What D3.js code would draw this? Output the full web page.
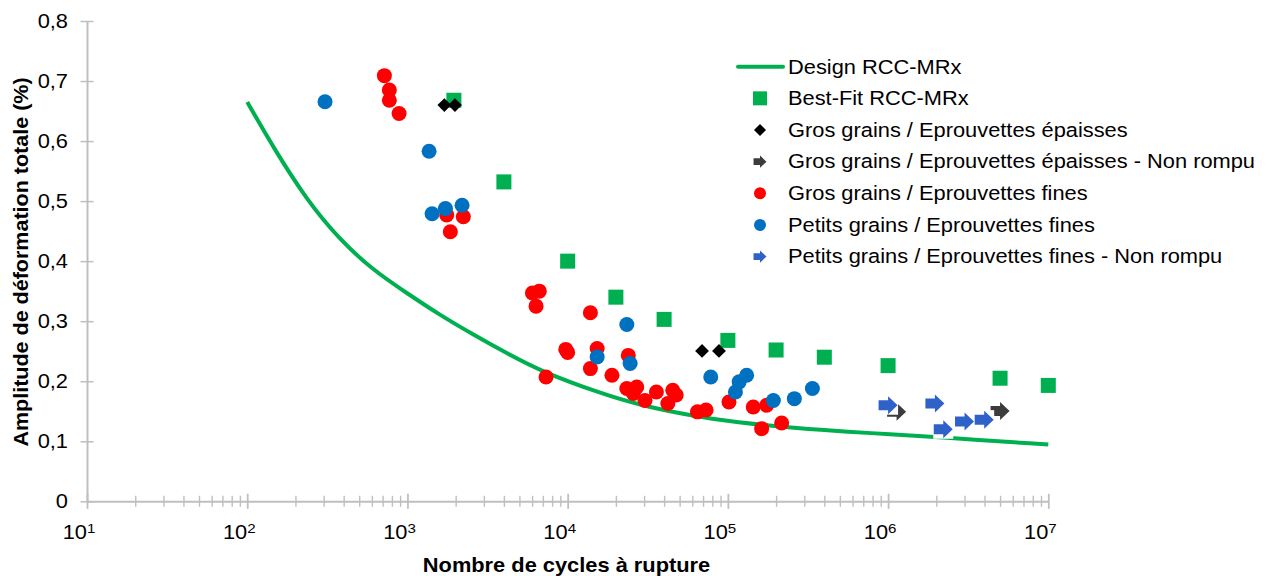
<!DOCTYPE html>
<html><head><meta charset="utf-8">
<script src="https://cdn.jsdelivr.net/npm/d3@7"></script>
<style>
body{margin:0;background:#fff}
svg{display:block;font-family:"Liberation Sans",Arial,sans-serif}
</style>
</head><body>
<svg id="chart" width="1272" height="576"></svg>
<script>
// ---------- data ----------
const xTickExps = [1, 2, 3, 4, 5, 6, 7];
const yTicks = [0, 0.1, 0.2, 0.3, 0.4, 0.5, 0.6, 0.7, 0.8];
const xTitle = "Nombre de cycles à rupture";
const yTitle = "Amplitude de déformation totale (%)";
const seriesNames = [
  "Design RCC-MRx",
  "Best-Fit RCC-MRx",
  "Gros grains / Eprouvettes épaisses",
  "Gros grains / Eprouvettes épaisses - Non rompu",
  "Gros grains / Eprouvettes fines",
  "Petits grains / Eprouvettes fines",
  "Petits grains / Eprouvettes fines - Non rompu"
];
const designN = [100, 145, 235, 380, 610, 1000, 1600, 2600, 4200, 7000, 16000, 28000, 67000, 108000, 280000, 580000, 1000000, 2000000, 10000000];
const designV = [0.665, 0.59, 0.502, 0.435, 0.385, 0.346, 0.31, 0.277, 0.246, 0.215, 0.18, 0.16, 0.14, 0.132, 0.121, 0.1155, 0.112, 0.107, 0.0945];
const bestFitN = [1950, 4000, 10000, 20000, 40000, 100000, 200000, 400000, 1000000, 5000000, 10000000];
const bestFitV = [0.668, 0.532, 0.40, 0.34, 0.303, 0.268, 0.252, 0.24, 0.226, 0.205, 0.193];
const ggEpN = [1700, 1980, 69000, 88000];
const ggEpV = [0.66, 0.66, 0.2505, 0.2505];
const ggEpNrN = [1130000, 5000000];
const ggEpNrV = [0.149, 0.1505];
const ggFinN = [718, 771, 771, 887, 1758, 2233, 1853, 6026, 6650, 6350, 13870, 9730, 10000, 15280, 23900, 7330, 13870, 18900, 23400, 27000, 25700, 30400, 35800, 45300, 47600, 42200, 64600, 73100, 101600, 144000, 174600, 162500, 216600];
const ggFinV = [0.709, 0.685, 0.668, 0.646, 0.477, 0.474, 0.449, 0.347, 0.35, 0.325, 0.314, 0.253, 0.248, 0.2545, 0.243, 0.207, 0.221, 0.21, 0.188, 0.1905, 0.1795, 0.168, 0.182, 0.185, 0.177, 0.163, 0.149, 0.152, 0.1655, 0.157, 0.16, 0.121, 0.1305];
const pgFinN = [306, 1365, 1425, 1726, 2193, 23400, 15280, 24550, 78200, 131000, 117600, 111500, 192300, 260000, 337000];
const pgFinV = [0.6655, 0.583, 0.479, 0.4875, 0.493, 0.2945, 0.2405, 0.2295, 0.207, 0.21, 0.199, 0.182, 0.168, 0.171, 0.188];
const pgNrN = [1000000, 1960000, 2210000, 3000000, 3980000];
const pgNrV = [0.16, 0.163, 0.12, 0.133, 0.136];

// ---------- style ----------
const C = {green:"#00B050", black:"#000000", gray:"#3C3C3C", red:"#FF0000", blue:"#0070C0", arrowBlue:"#2F62C9", axis:"#BFBFBF", text:"#000000"};
const FS = 19.5, SX = 1.12;

const svg = d3.select("#chart");
const x = d3.scaleLog().domain([10, 1e7]).range([87, 1048.3]);
const y = d3.scaleLinear().domain([0, 0.8]).range([501.3, 21]);
const zip = (a, b) => a.map((d, i) => [d, b[i]]);

// ---------- axes ----------
const yAx = svg.append("g").attr("transform", "translate(87,0)")
  .call(d3.axisLeft(y).tickValues(yTicks).tickSize(0).tickSizeOuter(0).tickFormat(""));
yAx.select(".domain").attr("stroke", C.axis).attr("stroke-width", 2);
yAx.selectAll(".tick line").attr("x1", -6.5).attr("x2", 6.5).attr("stroke", C.axis).attr("stroke-width", 1.5);

const xTickVals = [];
xTickExps.forEach(e => {
  if (e < 7) { for (let m = 1; m <= 9; m++) xTickVals.push(m * Math.pow(10, e)); }
  else xTickVals.push(Math.pow(10, e));
});
const isMajor = v => Math.abs(Math.log10(v) - Math.round(Math.log10(v))) < 1e-9;
const xAx = svg.append("g").attr("transform", `translate(0,${y(0)})`)
  .call(d3.axisBottom(x).tickValues(xTickVals).tickSize(0).tickSizeOuter(0).tickFormat(""));
xAx.select(".domain").attr("stroke", C.axis).attr("stroke-width", 2);
xAx.selectAll(".tick line")
  .attr("y1", d => isMajor(d) ? -7.5 : -5.5)
  .attr("y2", d => isMajor(d) ? 7.5 : 5.5)
  .attr("stroke", C.axis).attr("stroke-width", d => isMajor(d) ? 1.8 : 1.4);

// y tick labels
const fmtY = v => v === 0 ? "0" : d3.format(".1f")(v).replace(".", ",");
svg.append("g").selectAll("text").data(yTicks).join("text")
  .attr("transform", d => `translate(68,${y(d) + 7}) scale(${SX},1)`)
  .attr("text-anchor", "end").attr("font-size", FS).attr("fill", C.text)
  .text(fmtY);

// x tick labels 10^e
const xl = svg.append("g");
xTickExps.forEach(e => {
  const px = x(Math.pow(10, e));
  xl.append("text").attr("transform", `translate(${px},539.3) scale(${SX},1)`)
    .attr("text-anchor", "end").attr("font-size", FS).attr("fill", C.text).text("10");
  xl.append("text").attr("transform", `translate(${px},533) scale(${SX},1)`)
    .attr("text-anchor", "start").attr("font-size", 13.5).attr("fill", C.text).text(String(e));
});

// axis titles
svg.append("text").attr("transform", `translate(566.5,571.7) scale(${SX},1)`)
  .attr("text-anchor", "middle").attr("font-size", FS).attr("font-weight", "bold").attr("fill", C.text)
  .text(xTitle);
svg.append("text").attr("transform", `translate(28,262) rotate(-90) scale(1.05,1)`)
  .attr("text-anchor", "middle").attr("font-size", 20.5).attr("font-weight", "bold").attr("fill", C.text)
  .text(yTitle);

// ---------- marks ----------
const arrowPath = "M-9.5,-5 L0,-5 L0,-9 L9.5,0 L0,9 L0,5 L-9.5,5 Z";
const diamond = s => `M0,${-s} L${s},0 L0,${s} L${-s},0 Z`;

// design line
svg.append("path").datum(zip(designN, designV))
  .attr("fill", "none").attr("stroke", C.green).attr("stroke-width", 4)
  .attr("d", d3.line().x(d => x(d[0])).y(d => y(d[1])).curve(d3.curveBasis));

// best fit squares
svg.append("g").selectAll("rect").data(zip(bestFitN, bestFitV)).join("rect")
  .attr("x", d => x(d[0]) - 7.5).attr("y", d => y(d[1]) - 7.5)
  .attr("width", 15).attr("height", 15).attr("fill", C.green);

// gros grains épaisses diamonds
svg.append("g").selectAll("path").data(zip(ggEpN, ggEpV)).join("path")
  .attr("transform", d => `translate(${x(d[0])},${y(d[1])})`)
  .attr("d", diamond(6.9)).attr("fill", C.black);

// arrows helper
function arrows(data, color) {
  const g = svg.append("g").selectAll("g").data(data).join("g")
    .attr("transform", d => `translate(${x(d[0])},${y(d[1])})`);
  g.append("rect").attr("x", -10).attr("y", -9.5).attr("width", 20).attr("height", 19).attr("fill", "#fff");
  g.append("path").attr("d", arrowPath).attr("fill", color);
}
arrows(zip(ggEpNrN, ggEpNrV), C.gray);

// red circles
svg.append("g").selectAll("circle").data(zip(ggFinN, ggFinV)).join("circle")
  .attr("cx", d => x(d[0])).attr("cy", d => y(d[1])).attr("r", 7.5).attr("fill", C.red);
// blue circles
svg.append("g").selectAll("circle").data(zip(pgFinN, pgFinV)).join("circle")
  .attr("cx", d => x(d[0])).attr("cy", d => y(d[1])).attr("r", 7.5).attr("fill", C.blue);

arrows(zip(pgNrN, pgNrV), C.arrowBlue);

// ---------- legend ----------
const lg = svg.append("g");
const rowY = i => 66.7 + i * 31.65;
seriesNames.forEach((name, i) => {
  const cy = rowY(i), cx = 760;
  if (i === 0) {
    lg.append("line").attr("x1", 738).attr("x2", 783).attr("y1", cy).attr("y2", cy)
      .attr("stroke", C.green).attr("stroke-width", 4).attr("stroke-linecap", "round");
  } else if (i === 1) {
    lg.append("rect").attr("x", cx - 7).attr("y", cy - 7).attr("width", 14).attr("height", 14).attr("fill", C.green);
  } else if (i === 2) {
    lg.append("path").attr("transform", `translate(${cx},${cy})`).attr("d", diamond(6)).attr("fill", C.black);
  } else if (i === 3) {
    lg.append("path").attr("transform", `translate(${cx},${cy}) scale(0.68)`).attr("d", arrowPath).attr("fill", C.gray);
  } else if (i === 4) {
    lg.append("circle").attr("cx", cx).attr("cy", cy).attr("r", 6).attr("fill", C.red);
  } else if (i === 5) {
    lg.append("circle").attr("cx", cx).attr("cy", cy).attr("r", 6).attr("fill", C.blue);
  } else {
    lg.append("path").attr("transform", `translate(${cx},${cy}) scale(0.68)`).attr("d", arrowPath).attr("fill", C.arrowBlue);
  }
  lg.append("text").attr("transform", `translate(788,${cy + 6.8}) scale(${SX},1)`)
    .attr("font-size", FS).attr("fill", C.text).text(name);
});
</script>
</body></html>
